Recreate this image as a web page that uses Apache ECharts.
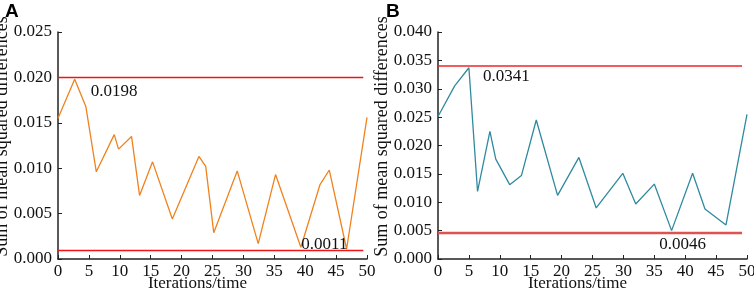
<!DOCTYPE html>
<html>
<head>
<meta charset="utf-8">
<script src="https://cdn.jsdelivr.net/npm/echarts@6/dist/echarts.min.js"></script>
<style>
  html, body { margin: 0; padding: 0; background: #fff; }
  #chart { width: 754px; height: 290px; }
</style>
</head>
<body>
<div id="chart"></div>
<script>
// Panel A - orange series
const iterA = [0, 2.7, 4.5, 6.2, 9.1, 9.8, 11.9, 13.2, 15.3, 18.5, 22.8, 23.9, 25.2, 29.0, 32.4, 35.2, 39.3, 42.4, 43.9, 46.7, 50];
const valuesA = [0.0155, 0.0198, 0.0168, 0.0096, 0.0137, 0.0121, 0.0135, 0.0070, 0.0107, 0.0044, 0.0113, 0.0102, 0.0029, 0.0097, 0.0017, 0.0093, 0.0013, 0.0082, 0.0098, 0.0011, 0.0156];
const limitsA = [0.020, 0.001];
const notesA = ['0.0198', '0.0011'];

// Panel B - teal series
const iterB = [0, 2.7, 5.0, 6.4, 8.4, 9.35, 11.6, 13.5, 15.9, 19.35, 22.8, 25.6, 29.9, 32.0, 35.0, 37.8, 41.2, 43.2, 46.6, 50];
const valuesB = [0.0251, 0.0305, 0.0337, 0.0119, 0.0225, 0.0176, 0.0131, 0.0147, 0.0245, 0.0112, 0.0179, 0.0090, 0.0151, 0.0097, 0.0132, 0.0050, 0.0151, 0.0088, 0.0060, 0.0255];
const limitsB = [0.0341, 0.0046];
const notesB = ['0.0341', '0.0046'];

const serif = 'Liberation Serif';

function pairs(xs, ys) {
    return xs.map((x, i) => [x, ys[i]]);
}

function xAxisFor(idx) {
    return {
        type: 'value', gridIndex: idx, min: 0, max: 50, interval: 5,
        name: 'Iterations/time', nameLocation: 'middle', nameGap: 16, nameMoveOverlap: false,
        nameTextStyle: { fontFamily: serif, fontSize: 17, color: '#111', padding: [0, 30, 0, 0] },
        axisLine: { lineStyle: { color: '#222', width: 1.5 } },
        axisTick: { inside: true, length: 4, lineStyle: { color: '#222' } },
        axisLabel: { fontFamily: serif, fontSize: 17, color: '#111', margin: 4 },
        splitLine: { show: false }
    };
}

function yAxisFor(idx, max) {
    return {
        type: 'value', gridIndex: idx, min: 0, max: max, interval: 0.005,
        name: 'Sum of mean squared differences', nameLocation: 'middle', nameGap: 47, nameMoveOverlap: false,
        nameTextStyle: { fontFamily: serif, fontSize: 18, color: '#111', padding: [0, 0, 0, 18] },
        axisLine: { show: true, lineStyle: { color: '#222', width: 1.5 } },
        axisTick: { show: true, inside: true, length: 4, lineStyle: { color: '#222' } },
        axisLabel: { fontFamily: serif, fontSize: 17, color: '#111', margin: 6,
            formatter: v => v.toFixed(3) },
        splitLine: { show: false }
    };
}

function limitLines(limits, end, styles) {
    return {
        silent: true, symbol: 'none', label: { show: false },
        data: limits.map((v, i) => [
            { coord: [0, v], lineStyle: styles[i] },
            { coord: [end, v] }
        ])
    };
}

function notes(texts, coords) {
    return {
        symbol: 'circle', symbolSize: 0, silent: true,
        label: { show: true, position: 'inside', fontFamily: serif, fontSize: 17, color: '#111',
            formatter: p => p.name },
        data: texts.map((t, i) => ({ name: t, coord: coords[i] }))
    };
}

const chart = echarts.init(document.getElementById('chart'));

chart.setOption({
    animation: false,
    title: [
        { text: 'A', left: 0, top: -3, textStyle: { fontFamily: 'Liberation Sans', fontWeight: 'bold', fontSize: 19, color: '#000' } },
        { text: 'B', left: 381, top: -3, textStyle: { fontFamily: 'Liberation Sans', fontWeight: 'bold', fontSize: 19, color: '#000' } }
    ],
    grid: [
        { left: 58, right: 387, top: 32, bottom: 31, outerBoundsMode: 'none', containLabel: false },
        { left: 438, right: 7, top: 32, bottom: 31, outerBoundsMode: 'none', containLabel: false }
    ],
    xAxis: [xAxisFor(0), xAxisFor(1)],
    yAxis: [yAxisFor(0, 0.025), yAxisFor(1, 0.040)],
    series: [
        {
            type: 'line', xAxisIndex: 0, yAxisIndex: 0,
            data: pairs(iterA, valuesA),
            showSymbol: false,
            lineStyle: { color: '#F0821E', width: 1.3 },
            markLine: limitLines(limitsA, 49.4, [
                { color: '#F01414', width: 1.3, type: 'solid' },
                { color: '#F01414', width: 1.3, type: 'solid' }
            ]),
            markPoint: notes(notesA, [[9.1, 0.0184], [43.1, 0.00157]])
        },
        {
            type: 'line', xAxisIndex: 1, yAxisIndex: 1,
            data: pairs(iterB, valuesB),
            showSymbol: false,
            lineStyle: { color: '#2F8A9E', width: 1.3 },
            markLine: limitLines(limitsB, 49.2, [
                { color: '#EE2626', width: 1.6, type: 'solid' },
                { color: '#E05252', width: 2.4, type: 'solid' }
            ]),
            markPoint: notes(notesB, [[11.05, 0.0321], [39.6, 0.00252]])
        }
    ]
});
</script>
</body>
</html>
